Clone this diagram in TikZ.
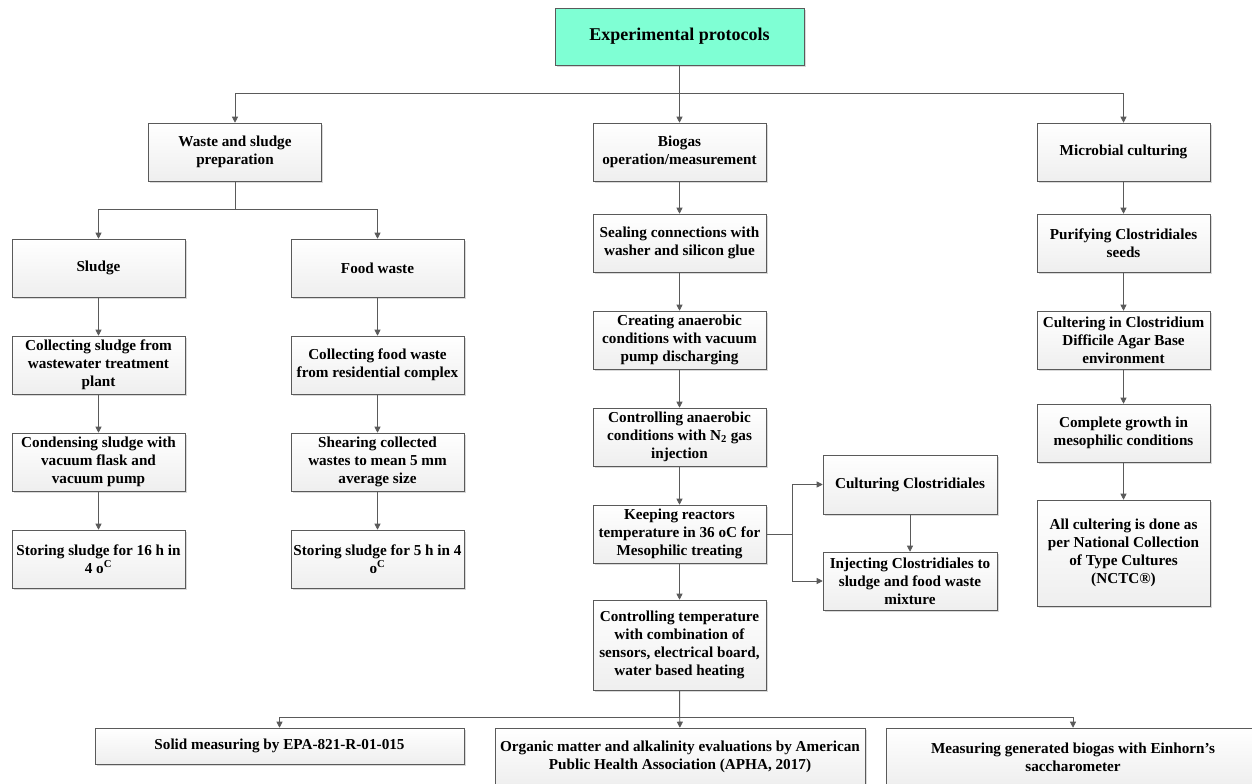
\documentclass[tikz,border=0pt]{standalone}
\usepackage{fontspec}
\setmainfont{Liberation Serif}
\usetikzlibrary{arrows.meta, shadows}
\definecolor{linegray}{RGB}{90,90,90}
\definecolor{topgreen}{RGB}{127,255,212}
\tikzstyle{stepbox} = [rectangle, draw=linegray, top color=white, bottom color=gray!13, drop shadow={shadow xshift=1.2pt, shadow yshift=-1.2pt, opacity=0.3}, minimum width=129.75pt, minimum height=43.5pt, inner sep=1pt, text centered, align=center, font=\bfseries\fontsize{11.4}{13.5}\selectfont]
\tikzstyle{topbox} = [rectangle, draw=linegray, fill=topgreen, drop shadow={shadow xshift=1.2pt, shadow yshift=-1.2pt, opacity=0.3}, minimum width=186.75pt, minimum height=42.75pt, text centered, font=\bfseries\fontsize{13.5}{16}\selectfont]
\tikzstyle{arrow} = [draw=linegray, semithick, -{Triangle[length=4.5pt,width=4.5pt]}]

\begin{document}
\begin{tikzpicture}[x=0.75pt, y=-0.75pt, node distance=72.75pt]
\useasboundingbox (0,0) rectangle (1252,784);
\clip (0,0) rectangle (1252,784);
\node (proto) [topbox] at (679.5,36.5) {Experimental protocols};
\node (waste) [stepbox] at (235,152) {Waste and sludge\\preparation};
\node (biogas) [stepbox] at (679.5,152) {Biogas\\operation/measurement};
\node (micro) [stepbox] at (1123.5,152) {Microbial culturing};

% waste and sludge preparation
\node (sludge) [stepbox] at (98.5,268) {Sludge};
\node (food) [stepbox] at (377.5,268) {Food waste};
\node (sl1) [stepbox, below of=sludge] {Collecting sludge from\\wastewater treatment\\plant};
\node (sl2) [stepbox, below of=sl1] {Condensing sludge with\\vacuum flask and\\vacuum pump};
\node (sl3) [stepbox, below of=sl2] {Storing sludge for 16 h in\\4 o\textsuperscript{C}};
\node (fw1) [stepbox, below of=food] {Collecting food waste\\from residential complex};
\node (fw2) [stepbox, below of=fw1] {Shearing collected\\wastes to mean 5 mm\\average size};
\node (fw3) [stepbox, below of=fw2] {Storing sludge for 5 h in 4\\o\textsuperscript{C}};

% biogas operation
\node (seal) [stepbox] at (679.5,243) {Sealing connections with\\washer and silicon glue};
\node (create) [stepbox, below of=seal] {Creating anaerobic\\conditions with vacuum\\pump discharging};
\node (ctrl) [stepbox, below of=create] {Controlling anaerobic\\conditions with N\textsubscript{2} gas\\injection};
\node (keep) [stepbox, below of=ctrl] {Keeping reactors\\temperature in 36 oC for\\Mesophilic treating};
\node (temp) [stepbox, below of=keep, node distance=83.25pt, minimum height=67.5pt] {Controlling temperature\\with combination of\\sensors, electrical board,\\water based heating};
\node (cult) [stepbox, minimum width=130.5pt, minimum height=44.25pt] at (910,484.5) {Culturing Clostridiales};
\node (inject) [stepbox, minimum width=130.5pt] at (910,581) {Injecting Clostridiales to\\sludge and food waste\\mixture};

% microbial culturing
\node (purify) [stepbox] at (1123.5,243) {Purifying Clostridiales\\seeds};
\node (culter) [stepbox, below of=purify] {Cultering in Clostridium\\Difficile Agar Base\\environment};
\node (growth) [stepbox] at (1123.5,433) {Complete growth in\\mesophilic conditions};
\node (allcult) [stepbox, minimum height=79.5pt] at (1123.5,553) {All cultering is done as\\per National Collection\\of Type Cultures\\(NCTC®)};

% measurements
\node (solid) [stepbox, minimum width=276.75pt, minimum height=27pt] at (279.5,746) {Solid measuring by EPA-821-R-01-015};
\node (organic) [stepbox, minimum width=277.5pt] at (680,757) {Organic matter and alkalinity evaluations by American\\Public Health Association (APHA, 2017)};
\node (measure) [stepbox, minimum width=280.5pt] at (1073,757) {Measuring generated biogas with Einhorn's\\saccharometer};

\draw [arrow] (proto) -- (biogas);
\draw [arrow] (proto.south) -- ++(0,28) -| (waste.north);
\draw [arrow] (proto.south) -- ++(0,28) -| (micro.north);
\draw [arrow] (waste.south) -- ++(0,28) -| (sludge.north);
\draw [arrow] (waste.south) -- ++(0,28) -| (food.north);
\draw [arrow] (sludge) -- (sl1);
\draw [arrow] (sl1) -- (sl2);
\draw [arrow] (sl2) -- (sl3);
\draw [arrow] (food) -- (fw1);
\draw [arrow] (fw1) -- (fw2);
\draw [arrow] (fw2) -- (fw3);
\draw [arrow] (biogas) -- (seal);
\draw [arrow] (seal) -- (create);
\draw [arrow] (create) -- (ctrl);
\draw [arrow] (ctrl) -- (keep);
\draw [arrow] (keep) -- (temp);
\draw [arrow] (keep.east) -- ++(26,0) |- (cult.west);
\draw [arrow] (keep.east) -- ++(26,0) |- (inject.west);
\draw [arrow] (cult) -- (inject);
\draw [arrow] (micro) -- (purify);
\draw [arrow] (purify) -- (culter);
\draw [arrow] (culter) -- (growth);
\draw [arrow] (growth) -- (allcult);
\draw [arrow] (temp) -- (organic);
\draw [arrow] (temp.south) -- ++(0,27) -| (solid.north);
\draw [arrow] (temp.south) -- ++(0,27) -| (measure.north);
\end{tikzpicture}
\end{document}
